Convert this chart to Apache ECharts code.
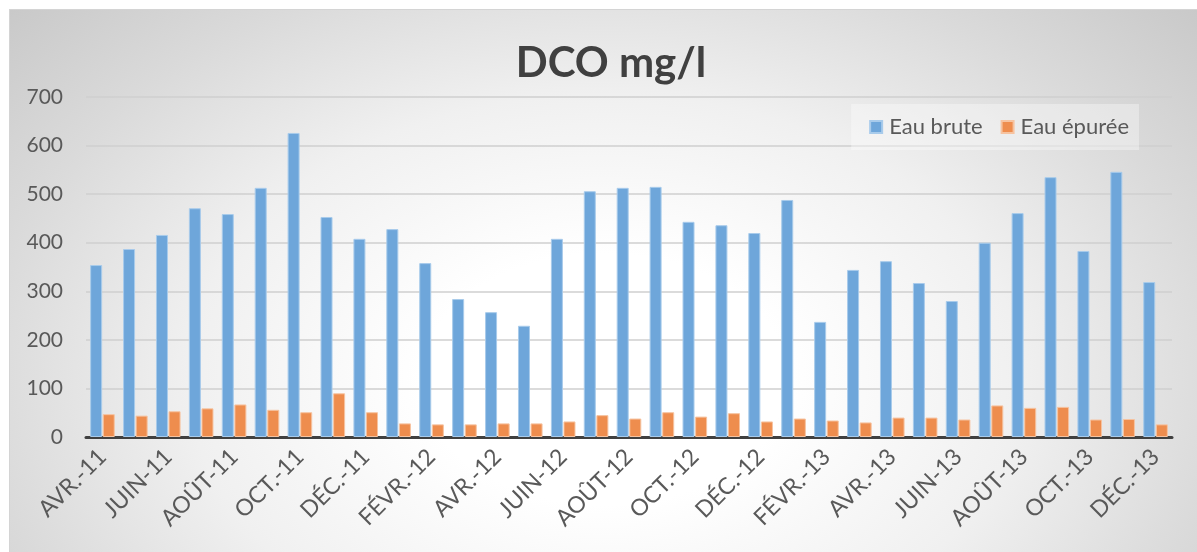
<!DOCTYPE html>
<html>
<head>
<meta charset="utf-8">
<script src="https://cdn.jsdelivr.net/npm/echarts@6/dist/echarts.min.js"></script>
<style>
  html, body { margin: 0; padding: 0; background: #ffffff; }
  #frame {
    position: absolute; left: 9px; top: 9px; width: 1188px; height: 543px;
    border-top: 1px solid #d4d4d4; border-left: 1px solid #d4d4d4;
    background: radial-gradient(ellipse 70% 105% at 50% 68%, #ffffff 0%, #ffffff 22%, #f0f0f0 50%, #dadada 75%, #c6c6c6 100%);
  }
  #chart { position: absolute; left: 0; top: 0; width: 1197px; height: 552px; }
</style>
</head>
<body>
<div id="frame"></div>
<div id="chart"></div>
<script>
// Monthly categories, April 2011 to December 2013
const months = [
  'AVR.-11', 'MAI-11', 'JUIN-11', 'JUIL.-11', 'AOÛT-11', 'SEPT.-11', 'OCT.-11', 'NOV.-11', 'DÉC.-11',
  'JANV.-12', 'FÉVR.-12', 'MARS-12', 'AVR.-12', 'MAI-12', 'JUIN-12', 'JUIL.-12', 'AOÛT-12', 'SEPT.-12', 'OCT.-12', 'NOV.-12', 'DÉC.-12',
  'JANV.-13', 'FÉVR.-13', 'MARS-13', 'AVR.-13', 'MAI-13', 'JUIN-13', 'JUIL.-13', 'AOÛT-13', 'SEPT.-13', 'OCT.-13', 'NOV.-13', 'DÉC.-13'
];

// DCO (mg/l) of raw water
const eauBrute = [
  354, 387, 416, 471, 459, 513, 626, 453, 408,
  428, 358, 284, 257, 229, 408, 506, 513, 515, 443, 436, 420,
  488, 237, 344, 362, 317, 280, 400, 461, 535, 383, 546, 319
];

// DCO (mg/l) of treated water
const eauEpuree = [
  47, 44, 53, 59, 67, 56, 51, 90, 51,
  28, 26, 26, 28, 28, 32, 45, 38, 51, 42, 49, 32,
  38, 34, 30, 40, 40, 36, 65, 60, 62, 36, 37, 26
];

const yTicks = { min: 0, max: 700, step: 100 };

const textColor = '#595959';
const font = 'Lato, "Open Sans", sans-serif';

const chart = echarts.init(document.getElementById('chart'), null, { renderer: 'canvas' });
chart.setOption({
  backgroundColor: 'transparent',
  animation: false,
  title: {
    text: 'DCO mg/l',
    left: 606, top: 37, textAlign: 'center',
    textStyle: { fontFamily: font, fontWeight: 'bold', fontSize: 42, color: '#404040' }
  },
  legend: {
    right: 58, top: 104,
    padding: [12, 10, 12, 18],
    backgroundColor: 'rgba(255,255,255,0.35)',
    itemWidth: 12, itemHeight: 12, itemGap: 18,
    icon: 'rect',
    textStyle: { fontFamily: font, fontSize: 22, color: textColor, padding: [0, 0, 0, 2] },
    data: ['Eau brute', 'Eau épurée']
  },
  grid: { left: 86, right: 25, top: 97, bottom: 115 },
  xAxis: {
    type: 'category',
    data: months,
    axisLine: { lineStyle: { color: '#404040', width: 3 } },
    axisTick: { show: false },
    axisLabel: {
      interval: 1, rotate: 45, margin: 16,
      fontFamily: font, fontSize: 23, color: textColor
    }
  },
  yAxis: {
    type: 'value',
    min: yTicks.min, max: yTicks.max, interval: yTicks.step,
    axisLine: { show: false },
    axisTick: { show: false },
    splitLine: { lineStyle: { color: '#cfcfcf', width: 1.5 } },
    axisLabel: { margin: 23, fontFamily: font, fontSize: 21, color: textColor }
  },
  series: [
    {
      name: 'Eau brute', type: 'bar', data: eauBrute,
      barWidth: 12, barGap: '5%',
      itemStyle: { color: '#6ea6da', borderColor: '#a8cbeb', borderWidth: 1 }
    },
    {
      name: 'Eau épurée', type: 'bar', data: eauEpuree,
      barWidth: 12,
      itemStyle: { color: '#ee8d4e', borderColor: '#f6c3a0', borderWidth: 1 }
    }
  ]
});
</script>
</body>
</html>
